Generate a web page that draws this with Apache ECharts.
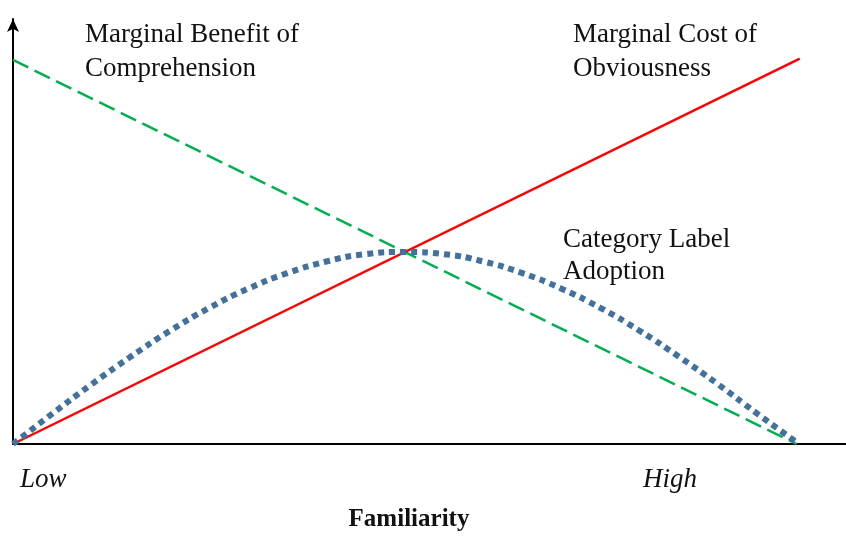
<!DOCTYPE html>
<html><head><meta charset="utf-8">
<script src="https://cdn.jsdelivr.net/npm/echarts@6/dist/echarts.min.js"></script>
<style>html,body{margin:0;padding:0;background:#fff}#c{width:846px;height:536px}</style>
</head><body><div id="c"></div>
<script>
// Familiarity (0 = Low, 100 = High)
const familiarity = [0,5,10,15,20,25,30,35,40,45,50,55,60,65,70,75,80,85,90,95,100];
// Category Label Adoption (dotted blue curve)
const adoption = [0,7.0,13.8,20.2,26.2,31.5,36.0,39.6,42.3,44.0,44.5,44.0,42.3,39.6,36.0,31.5,26.2,20.2,13.8,7.0,0.4];
// Marginal Benefit of Comprehension (green dashed)
const benefitX = [0,100];
const benefitY = [89,0];
// Marginal Cost of Obviousness (red)
const costX = [0,100.4];
const costY = [0,89.3];

const FONT = '"Liberation Serif","Times New Roman",serif';
const chart = echarts.init(document.getElementById('c'), null, {renderer:'canvas'});
const txt = (text, x, y, extra) => ({type:'text', x, y, style:Object.assign({text, font:'27px '+FONT, fill:'#111', textVerticalAlign:'middle', verticalAlign:'middle'}, extra||{})});
chart.setOption({
  animation:false,
  grid:{left:13, right:0, top:19, bottom:92},
  xAxis:{type:'value', min:0, max:106.3, axisLine:{show:true, lineStyle:{color:'#000', width:2}}, axisTick:{show:false}, axisLabel:{show:false}, splitLine:{show:false}},
  yAxis:{type:'value', min:0, max:98.5, axisLine:{show:true, symbol:['none','arrow'], symbolSize:[9,13], lineStyle:{color:'#000', width:2}}, axisTick:{show:false}, axisLabel:{show:false}, splitLine:{show:false}},
  series:[
    {type:'line', data:benefitX.map((x,i)=>[x,benefitY[i]]), symbol:'none', lineStyle:{color:'#00B050', width:2.5, type:[17,7]}, z:2},
    {type:'line', data:costX.map((x,i)=>[x,costY[i]]), symbol:'none', lineStyle:{color:'#FF0000', width:2.5}, z:3},
    {type:'line', data:familiarity.map((x,i)=>[x,adoption[i]]), smooth:true, symbol:'none', lineStyle:{color:'#41719C', width:6, type:[6,5], cap:'butt'}, z:4}
  ],
  graphic:[
    txt('Marginal Benefit of', 85, 35),
    txt('Comprehension', 85, 69),
    txt('Marginal Cost of', 573, 35),
    txt('Obviousness', 573, 69),
    txt('Category Label', 563, 240),
    txt('Adoption', 563, 272),
    txt('Low', 20, 480, {font:'italic 27px '+FONT}),
    txt('High', 643, 480, {font:'italic 27px '+FONT}),
    txt('Familiarity', 409, 520, {font:'bold 25px '+FONT, textAlign:'center', align:'center'})
  ]
});
</script></body></html>
